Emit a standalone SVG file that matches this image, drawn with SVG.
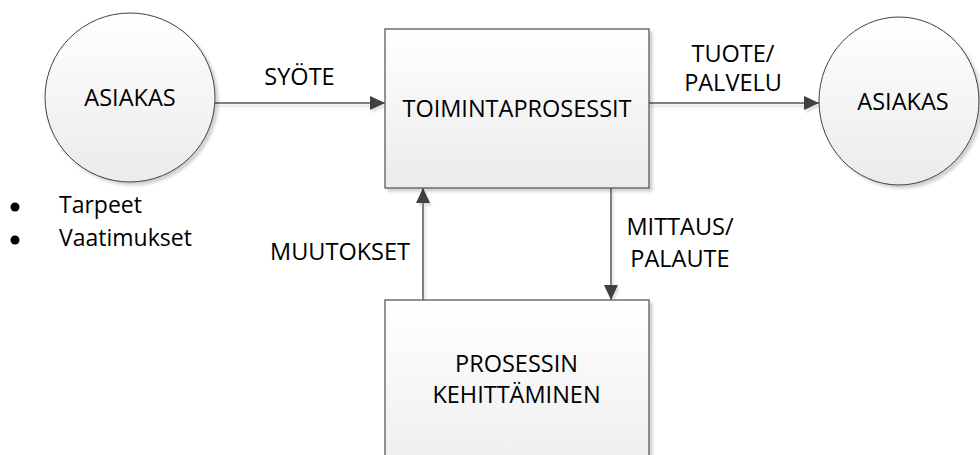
<svg xmlns="http://www.w3.org/2000/svg" width="980" height="455" viewBox="0 0 980 455">
  <defs>
    <linearGradient id="fillGrad" x1="0" y1="0" x2="0" y2="1">
      <stop offset="0" stop-color="#ffffff"/>
      <stop offset="1" stop-color="#ebebeb"/>
    </linearGradient>
    <filter id="shadow" x="-10%" y="-10%" width="130%" height="130%">
      <feDropShadow dx="3" dy="3" stdDeviation="1.5" flood-color="#000000" flood-opacity="0.18"/>
    </filter>
    <filter id="lineShadow" x="-10%" y="-10%" width="130%" height="130%">
      <feDropShadow dx="2" dy="3" stdDeviation="0.8" flood-color="#000000" flood-opacity="0.12"/>
    </filter>
    <marker id="arrow" markerWidth="16" markerHeight="14" refX="15" refY="7" orient="auto" markerUnits="userSpaceOnUse">
      <path d="M0,0 L15,7 L0,14 Z" fill="#404040"/>
    </marker>
  </defs>
  <style>
    .shape { fill: url(#fillGrad); stroke: #595959; stroke-width: 1.3; filter: url(#shadow); }
    .circle { stroke: #404040; stroke-width: 1; }
    .label { font-family: "Open Sans", "Liberation Sans", sans-serif; font-size: 23.5px; fill: #000000; text-anchor: middle; }
    .bullet { font-family: "Open Sans", "Liberation Sans", sans-serif; font-size: 23px; fill: #000000; }
    .conn { fill: none; stroke: #808080; stroke-width: 2; marker-end: url(#arrow); }
  </style>

  <!-- connectors -->
  <g id="connectors" filter="url(#lineShadow)">
    <path class="conn" d="M215,103 L385,103"/>
    <path class="conn" d="M649,103 L819,103"/>
    <path class="conn" d="M423,300 L423,188"/>
    <path class="conn" d="M611,188 L611,300"/>
  </g>

  <!-- customer (input side) -->
  <g id="asiakas-in">
    <ellipse class="shape circle" cx="130" cy="97.5" rx="85" ry="84.5"/>
    <text class="label" x="130" y="106">ASIAKAS</text>
  </g>

  <!-- customer (output side) -->
  <g id="asiakas-out">
    <ellipse class="shape circle" cx="899" cy="101" rx="80" ry="84"/>
    <text class="label" x="903" y="110">ASIAKAS</text>
  </g>

  <!-- core process -->
  <g id="toimintaprosessit">
    <rect class="shape" x="385" y="29" width="264" height="159"/>
    <text class="label" x="517" y="117">TOIMINTAPROSESSIT</text>
  </g>

  <!-- improvement process -->
  <g id="prosessin-kehittaminen">
    <rect class="shape" x="385" y="300" width="264" height="200"/>
    <text class="label" x="516.5" y="372">PROSESSIN</text>
    <text class="label" x="516.5" y="403">KEHITTÄMINEN</text>
  </g>

  <!-- connector labels -->
  <g id="labels">
    <text class="label" x="299.5" y="85">SYÖTE</text>
    <text class="label" x="733" y="62">TUOTE/</text>
    <text class="label" x="733" y="91">PALVELU</text>
    <text class="label" x="680" y="235">MITTAUS/</text>
    <text class="label" x="680" y="267">PALAUTE</text>
    <text class="label" x="340" y="260">MUUTOKSET</text>
  </g>

  <!-- customer needs list -->
  <g id="needs">
    <circle cx="15" cy="207" r="4.5" fill="#000000"/>
    <text class="bullet" x="59" y="213">Tarpeet</text>
    <circle cx="15" cy="240" r="4.5" fill="#000000"/>
    <text class="bullet" x="59" y="246">Vaatimukset</text>
  </g>
</svg>
